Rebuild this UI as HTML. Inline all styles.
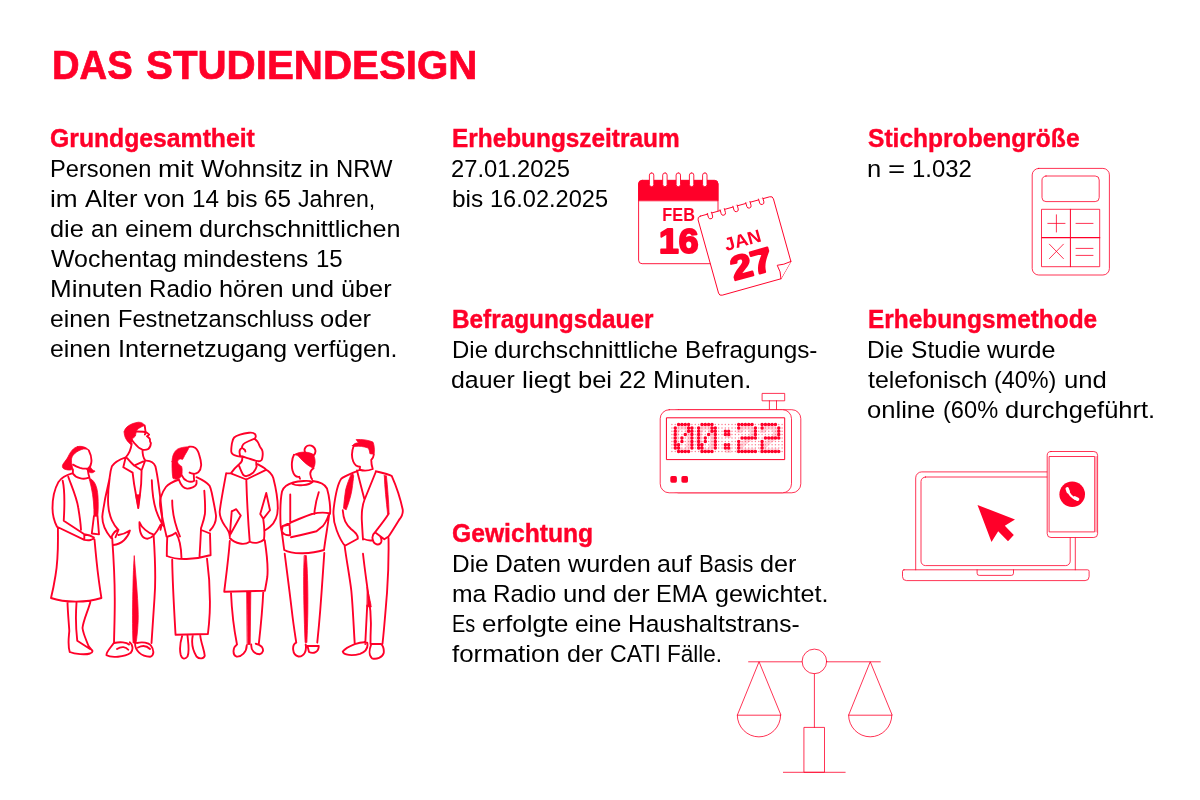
<!DOCTYPE html>
<html lang="de"><head><meta charset="utf-8"><title>Das Studiendesign</title>
<style>
html,body{margin:0;padding:0;background:#fff;}
body{width:1200px;height:800px;position:relative;overflow:hidden;font-family:"Liberation Sans",sans-serif;}
.ln{position:absolute;white-space:pre;display:block;margin:0;padding:0;transform-origin:0 0;}
.ln span{display:inline-block;white-space:pre;transform-origin:0 0;}
.t{font-size:40.5px;line-height:51px;height:51px;font-weight:bold;color:#ff0029;-webkit-text-stroke:0.7px #ff0029;}
.h{font-size:25px;line-height:30px;font-weight:bold;color:#ff0029;-webkit-text-stroke:0.4px #ff0029;}
.b{font-size:24.5px;line-height:30px;height:30px;font-weight:normal;color:#000000;}
svg{position:absolute;left:0;top:0;overflow:visible;}
svg text{font-family:"Liberation Sans",sans-serif;}
</style></head>
<body>
<h1 class="ln t" style="left:51.76px;top:39.87px"><span style="width:94.17px;transform:scaleX(0.9429)">DAS </span><span style="width:334.07px;transform:scaleX(0.9953)">STUDIENDESIGN</span></h1>
<h2 class="ln h" style="left:49.93px;top:123.44px;transform:scaleX(0.9898)">Grundgesamtheit</h2>
<p class="ln b" style="left:50.37px;top:153.71px"><span style="width:108.12px;transform:scaleX(0.9663)">Personen </span><span style="width:42.45px;transform:scaleX(1.0922)">mit </span><span style="width:108.44px;transform:scaleX(1.0134)">Wohnsitz </span><span style="width:26.76px;transform:scaleX(1.0478)">in </span><span style="width:63.21px;transform:scaleX(0.9717)">NRW</span></p>
<p class="ln b" style="left:50.26px;top:183.71px"><span style="width:34.47px;transform:scaleX(1.0680)">im </span><span style="width:59.39px;transform:scaleX(1.0427)">Alter </span><span style="width:47.72px;transform:scaleX(1.0343)">von </span><span style="width:33.87px;transform:scaleX(0.9911)">14 </span><span style="width:38.28px;transform:scaleX(1.0030)">bis </span><span style="width:33.87px;transform:scaleX(0.9911)">65 </span><span style="width:84.10px;transform:scaleX(0.9451)">Jahren,</span></p>
<p class="ln b" style="left:50.26px;top:213.71px"><span style="width:40.70px;transform:scaleX(1.0355)">die </span><span style="width:33.68px;transform:scaleX(0.9848)">an </span><span style="width:74.68px;transform:scaleX(1.0165)">einem </span><span style="width:208.37px;transform:scaleX(1.0276)">durchschnittlichen</span></p>
<p class="ln b" style="left:50.87px;top:243.71px"><span style="width:132.54px;transform:scaleX(1.0183)">Wochentag </span><span style="width:132.13px;transform:scaleX(1.0004)">mindestens </span><span style="width:33.53px;transform:scaleX(0.9811)">15</span></p>
<p class="ln b" style="left:50.18px;top:273.71px"><span style="width:99.25px;transform:scaleX(1.0602)">Minuten </span><span style="width:69.93px;transform:scaleX(0.9854)">Radio </span><span style="width:71.49px;transform:scaleX(1.0316)">hören </span><span style="width:49.80px;transform:scaleX(1.0509)">und </span><span style="width:57.42px;transform:scaleX(1.0313)">über</span></p>
<p class="ln b" style="left:50.29px;top:303.71px"><span style="width:67.28px;transform:scaleX(1.0082)">einen </span><span style="width:202.55px;transform:scaleX(0.9645)">Festnetzanschluss </span><span style="width:57.95px;transform:scaleX(1.0422)">oder</span></p>
<p class="ln b" style="left:50.29px;top:333.71px"><span style="width:67.59px;transform:scaleX(1.0128)">einen </span><span style="width:175.96px;transform:scaleX(1.0344)">Internetzugang </span><span style="width:110.35px;transform:scaleX(1.0129)">verfügen.</span></p>
<h2 class="ln h" style="left:452.04px;top:123.44px;transform:scaleX(0.9753)">Erhebungszeitraum</h2>
<p class="ln b" style="left:451.29px;top:153.71px"><span style="width:125.74px;transform:scaleX(0.9695)">27.01.2025</span></p>
<p class="ln b" style="left:451.58px;top:183.71px"><span style="width:38.01px;transform:scaleX(0.9960)">bis </span><span style="width:124.88px;transform:scaleX(0.9629)">16.02.2025</span></p>
<h2 class="ln h" style="left:452.04px;top:304.34px;transform:scaleX(0.9734)">Befragungsdauer</h2>
<p class="ln b" style="left:451.54px;top:334.51px"><span style="width:42.71px;transform:scaleX(0.9790)">Die </span><span style="width:190.70px;transform:scaleX(1.0082)">durchschnittliche </span><span style="width:139.15px;transform:scaleX(0.9922)">Befragungs-</span></p>
<p class="ln b" style="left:451.48px;top:364.51px"><span style="width:70.60px;transform:scaleX(1.0167)">dauer </span><span style="width:55.57px;transform:scaleX(1.0831)">liegt </span><span style="width:40.93px;transform:scaleX(1.0412)">bei </span><span style="width:34.00px;transform:scaleX(0.9950)">22 </span><span style="width:105.33px;transform:scaleX(1.0476)">Minuten.</span></p>
<h2 class="ln h" style="left:451.64px;top:518.34px;transform:scaleX(0.9869)">Gewichtung</h2>
<p class="ln b" style="left:451.50px;top:548.51px"><span style="width:43.52px;transform:scaleX(0.9976)">Die </span><span style="width:72.79px;transform:scaleX(1.0086)">Daten </span><span style="width:89.65px;transform:scaleX(1.0304)">wurden </span><span style="width:41.52px;transform:scaleX(1.0180)">auf </span><span style="width:61.15px;transform:scaleX(0.9064)">Basis </span><span style="width:43.34px;transform:scaleX(1.0305)">der</span></p>
<p class="ln b" style="left:451.56px;top:578.51px"><span style="width:41.20px;transform:scaleX(1.0086)">ma </span><span style="width:70.17px;transform:scaleX(0.9889)">Radio </span><span style="width:49.98px;transform:scaleX(1.0546)">und </span><span style="width:43.48px;transform:scaleX(1.0337)">der </span><span style="width:58.26px;transform:scaleX(0.9679)">EMA </span><span style="width:120.27px;transform:scaleX(1.0280)">gewichtet.</span></p>
<p class="ln b" style="left:451.88px;top:608.51px"><span style="width:30.07px;transform:scaleX(0.8123)">Es </span><span style="width:93.35px;transform:scaleX(1.0586)">erfolgte </span><span style="width:53.16px;transform:scaleX(0.9999)">eine </span><span style="width:178.46px;transform:scaleX(1.0003)">Haushaltstrans-</span></p>
<p class="ln b" style="left:452.10px;top:638.51px"><span style="width:114.59px;transform:scaleX(1.0555)">formation </span><span style="width:42.99px;transform:scaleX(1.0221)">der </span><span style="width:57.74px;transform:scaleX(0.9436)">CATI </span><span style="width:61.88px;transform:scaleX(0.9195)">Fälle.</span></p>
<h2 class="ln h" style="left:867.81px;top:123.44px;transform:scaleX(0.9826)">Stichprobengröße</h2>
<p class="ln b" style="left:867.00px;top:153.71px"><span style="width:21.11px;transform:scaleX(1.0435)">n </span><span style="width:24.11px;transform:scaleX(1.2034)">= </span><span style="width:66.62px;transform:scaleX(0.9742)">1.032</span></p>
<h2 class="ln h" style="left:867.74px;top:304.34px;transform:scaleX(0.9762)">Erhebungsmethode</h2>
<p class="ln b" style="left:867.21px;top:334.51px"><span style="width:43.49px;transform:scaleX(0.9968)">Die </span><span style="width:76.52px;transform:scaleX(1.0030)">Studie </span><span style="width:75.46px;transform:scaleX(1.0283)">wurde</span></p>
<p class="ln b" style="left:868.12px;top:364.51px"><span style="width:126.21px;transform:scaleX(1.0192)">telefonisch </span><span style="width:69.20px;transform:scaleX(0.9542)">(40%) </span><span style="width:49.72px;transform:scaleX(1.0491)">und</span></p>
<p class="ln b" style="left:867.46px;top:394.51px"><span style="width:75.20px;transform:scaleX(1.0450)">online </span><span style="width:62.01px;transform:scaleX(0.9640)">(60% </span><span style="width:157.04px;transform:scaleX(1.0402)">durchgeführt.</span></p>
<svg width="1200" height="800" viewBox="0 0 1200 800">
<g id="people" transform="translate(45 418) scale(0.15)" fill="none" stroke="#ff0029" stroke-width="12.5" stroke-linecap="round" stroke-linejoin="round">
<path d="M292,216 C304,240 312,280 308,300 C304,320 298,332 289,336 C270,340 250,337 233,332 C215,326 198,318 187,311 M186,344 L186,370 M286,350 C288,370 292,385 296,396 M186,370 C205,400 255,414 292,398 M186,368 C150,378 110,396 90,426 C64,472 50,540 50,600 C50,650 62,690 80,725 M80,725 L262,812 M86,735 C88,850 82,980 70,1050 C62,1100 50,1160 40,1200 M118,418 C132,480 130,600 125,685 L262,775 M262,775 C285,778 310,785 326,796 C322,815 290,818 262,812 Z M155,392 C175,450 212,530 222,600 C232,660 238,710 240,745 M326,655 L312,770 M350,655 L360,775 M312,770 L360,776 M330,810 C338,900 348,1000 356,1060 C362,1110 370,1160 376,1200 M40,1200 C130,1232 280,1232 376,1200 M150,1230 C152,1300 160,1380 162,1420 C158,1470 150,1510 165,1560 M210,1232 C205,1300 205,1400 215,1485 L300,1540 M302,1228 C285,1290 255,1350 250,1400 C255,1440 275,1480 290,1520 C300,1535 312,1545 316,1552 M165,1560 C200,1575 270,1580 300,1570 C312,1565 318,1558 316,1552"/>
<path d="M217,191 C190,195 168,228 156,254 C145,280 120,300 116,318 C114,335 125,342 150,346 C165,348 178,347 187,340 C181,325 176,300 176,280 C177,262 185,248 197,238 C215,222 236,211 256,207 C270,205 284,209 292,216 C286,202 262,191 240,189 C232,188 224,189 217,191Z M300,322 C308,340 320,350 334,354 C322,370 292,372 278,344Z M292,398 C328,412 348,450 353,520 C356,570 355,620 352,655 L326,655 C328,600 322,520 308,460 C302,432 296,412 292,398Z" fill="#ff0029" stroke-width="5"/>
<path d="M610,90 L656,92 M656,92 C668,92 672,102 666,110 M664,50 C668,65 668,80 670,92 C680,100 692,106 694,111 C690,118 684,120 680,122 C690,130 698,136 700,142 C698,150 700,158 706,167 C704,185 698,200 689,206 C675,214 660,213 650,211 C630,205 612,188 600,172 C592,164 585,154 580,147 M578,172 C574,200 562,235 540,260 M650,214 C650,240 654,265 668,283 M538,262 L522,328 L584,364 M546,266 C562,285 578,302 594,317 L656,289 M594,317 L644,348 M668,283 L644,348 M584,364 C590,420 600,480 608,520 L622,600 M644,348 C644,420 638,480 632,520 L622,600 M538,262 C500,275 465,290 446,322 C438,345 434,370 431,397 C425,430 418,460 412,487 C404,520 397,555 393,584 C388,610 383,640 382,659 C382,700 398,750 440,800 M431,400 C424,450 420,500 420,547 C420,580 424,605 427,622 C432,645 438,665 446,682 C458,708 472,728 488,745 M440,800 C455,765 475,747 490,745 L470,795 M490,780 C520,775 548,762 566,750 C552,800 512,840 455,847 M448,800 C455,900 465,1100 465,1200 C466,1300 462,1400 460,1500 M676,284 C700,285 726,296 736,322 C752,390 768,520 780,640 C786,690 780,712 770,745 M712,415 C714,480 722,560 742,620 C756,660 776,700 792,722 M630,695 C642,730 690,768 722,776 M630,695 C628,760 640,802 682,805 C722,800 752,750 770,712 M724,780 C732,900 738,1100 730,1200 C724,1300 716,1400 710,1500 M462,1495 C440,1530 405,1560 410,1582 C440,1600 530,1595 572,1565 C590,1545 585,1510 565,1495 M462,1500 C500,1490 545,1495 560,1510 M480,1540 C510,1520 540,1525 555,1545 M600,1500 C600,1550 640,1590 700,1592 C730,1585 728,1545 705,1515 C690,1498 650,1490 612,1500 M620,1530 C650,1515 680,1520 700,1540"/>
<path d="M528,92 C532,60 570,36 622,28 C642,27 660,38 664,50 C648,56 632,64 622,72 C612,80 608,88 608,94 C606,104 604,112 603,120 C596,128 588,134 583,139 C580,148 580,156 579,162 L573,177 C560,168 548,155 540,140 C532,125 527,108 528,92Z M606,512 L634,512 L622,602Z M595,920 C605,1050 625,1250 621,1350 C618,1420 612,1470 607,1500 L587,1500 C582,1400 583,1250 587,1100 C589,1020 592,960 595,920Z" fill="#ff0029" stroke-width="5"/>
<path d="M961,192 C975,190 990,192 1000,198 C1012,206 1022,222 1028,245 C1036,270 1042,295 1041,315 C1040,335 1034,350 1022,362 C1012,370 1000,373 989,372 C980,371 972,368 964,364 M992,376 C992,390 993,405 995,418 M912,382 C918,396 930,412 948,420 C965,427 985,425 995,418 M894,414 C900,432 908,446 917,456 C926,466 936,470 947,471 C960,472 973,468 984,463 C998,456 1008,448 1010,437 C1011,430 1010,424 1010,418 M1010,394 C1045,410 1082,430 1097,452 C1104,465 1108,482 1112,500 C1120,540 1134,605 1140,650 C1142,690 1130,720 1100,750 M893,410 C860,422 826,436 806,460 C792,478 780,505 772,528 C766,550 766,580 770,600 C775,640 782,670 790,700 C797,735 805,765 810,790 M848,550 C848,620 870,720 900,790 M820,790 C840,785 860,775 872,765 M815,795 C812,850 812,890 812,920 M872,765 C895,800 908,850 910,935 M812,920 C880,950 1000,945 1100,915 M1062,485 C1066,540 1070,600 1066,640 C1060,680 1048,710 1040,735 M1050,750 L1100,770 M1100,770 L1104,915 M1040,735 C1038,800 1034,860 1030,925 M848,945 C850,1100 862,1300 870,1440 M1080,938 C1095,1050 1102,1200 1098,1300 C1095,1360 1090,1410 1086,1440 M870,1445 L1086,1440 M915,1450 C900,1500 895,1540 905,1580 C915,1610 935,1610 950,1590 C965,1560 955,1500 950,1450 M985,1450 C975,1500 985,1550 1010,1590 C1030,1610 1060,1605 1065,1585 C1060,1540 1040,1500 1035,1450"/>
<path d="M847,290 C848,250 862,222 883,208 C900,198 930,192 961,192 C958,205 948,222 939,236 C932,248 927,256 925,262 C922,268 920,274 916,277 C910,272 902,271 896,275 C888,280 883,286 884,294 C886,306 898,316 911,323 C914,335 915,345 914,355 C914,365 914,372 912,380 C908,392 900,400 890,405 C875,410 860,408 853,402 C848,380 846,330 847,290Z" fill="#ff0029" stroke-width="5"/>
<path d="M1397,138 C1380,145 1368,150 1356,155 C1340,162 1328,168 1322,175 C1316,182 1313,190 1313,200 M1397,138 C1406,132 1408,118 1400,108 C1392,98 1375,96 1360,98 C1335,101 1315,106 1300,111 C1285,116 1270,122 1261,130 C1252,140 1248,155 1246,170 C1243,190 1240,210 1242,225 C1244,238 1252,244 1262,247 C1275,252 1290,256 1302,258 M1313,200 C1302,205 1296,215 1297,228 C1298,240 1300,250 1302,258 M1322,205 C1330,208 1336,215 1336,224 M1397,138 C1405,145 1412,152 1417,158 C1424,168 1428,180 1433,191 C1438,200 1443,206 1447,213 C1452,225 1452,245 1450,258 C1449,268 1447,275 1444,280 C1438,287 1430,289 1422,288 C1400,284 1378,276 1356,269 C1340,264 1325,260 1311,255 M1314,260 C1318,280 1314,296 1294,308 M1408,291 C1408,305 1409,315 1411,324 M1294,308 C1270,328 1252,350 1239,369 M1294,319 C1304,345 1312,365 1322,380 C1328,386 1335,388 1342,388 C1360,384 1378,372 1389,363 C1400,352 1407,338 1411,324 M1417,308 C1440,320 1458,330 1470,340 M1239,369 L1342,410 M1470,348 L1342,410 M1208,368 L1239,369 M1208,368 C1195,440 1175,540 1165,620 C1162,650 1180,690 1200,720 C1220,745 1230,760 1232,790 M1342,410 C1346,550 1355,700 1365,825 M1245,622 L1275,608 L1305,650 L1238,772 M1245,622 C1240,680 1235,740 1232,790 M1475,500 L1500,615 L1455,672 L1435,640 Z M1470,342 C1498,356 1514,376 1522,400 C1540,470 1552,540 1552,600 C1552,660 1530,700 1500,725 C1485,738 1472,745 1465,750 M1455,672 C1462,720 1465,770 1460,810 M1232,800 C1270,840 1330,850 1365,825 C1400,840 1440,830 1460,810 M1232,820 C1225,920 1208,1050 1195,1155 M1465,815 C1478,900 1488,1000 1482,1060 C1476,1100 1470,1130 1466,1152 M1195,1158 L1466,1152 M1240,1165 C1245,1280 1262,1420 1280,1510 M1455,1160 C1450,1280 1435,1420 1425,1510 M1280,1510 C1250,1530 1250,1580 1275,1590 C1310,1595 1345,1560 1345,1515 M1375,1510 C1372,1550 1400,1575 1430,1575 C1455,1570 1460,1545 1445,1525 C1435,1515 1420,1508 1405,1505"/>
<path d="M1346,1160 L1372,1160 L1368,1510 L1350,1510Z" fill="#ff0029" stroke-width="5"/>
<path d="M1735,232 C1720,202 1745,176 1775,184 C1805,194 1812,230 1790,250 M1660,245 C1645,270 1642,320 1650,350 C1660,385 1680,395 1695,392 L1700,405 M1790,335 C1775,345 1765,360 1770,380 C1772,395 1775,402 1780,408 M1650,440 C1680,455 1760,450 1785,425 M1655,430 C1690,420 1760,415 1785,425 M1655,430 C1620,440 1590,455 1580,490 C1570,540 1568,640 1570,700 C1572,740 1578,760 1585,775 M1785,420 C1830,425 1865,440 1880,470 C1895,520 1905,600 1900,640 M1635,510 L1635,700 M1825,495 C1810,540 1800,590 1795,640 M1585,720 C1630,700 1720,660 1780,640 C1830,628 1870,630 1895,635 M1895,635 C1880,680 1860,720 1840,730 L1810,755 M1810,755 C1750,770 1690,785 1640,795 M1585,720 L1630,710 L1635,780 C1615,785 1590,775 1578,755 Z M1578,755 C1585,800 1590,850 1595,880 M1595,880 C1650,912 1780,905 1860,880 M1895,640 C1885,720 1870,800 1860,880 M1598,905 C1610,1000 1630,1150 1645,1280 C1655,1370 1668,1450 1675,1497 M1862,900 C1855,1000 1845,1150 1835,1280 C1828,1370 1820,1450 1815,1497 M1675,1497 C1645,1510 1645,1580 1690,1590 C1730,1592 1745,1550 1738,1510 M1750,1520 L1825,1520 C1825,1560 1790,1575 1760,1560 Z"/>
<path d="M1660,245 C1690,225 1740,220 1785,240 C1805,265 1805,310 1790,335 C1760,325 1720,290 1690,255 C1680,248 1670,245 1660,245Z M1730,917 L1742,917 C1750,1000 1754,1150 1752,1300 C1750,1400 1748,1450 1746,1497 L1734,1497 C1728,1350 1722,1150 1725,1000Z" fill="#ff0029" stroke-width="5"/>
<path d="M2058,185 C2045,220 2045,265 2055,290 C2065,315 2085,325 2100,325 L2098,345 M2192,245 C2190,260 2185,270 2175,280 C2175,300 2178,320 2185,340 M2098,345 C2120,352 2160,350 2185,340 M2098,345 C2060,365 2000,385 1975,405 C1950,440 1935,520 1925,600 C1918,660 1925,700 1945,750 C1960,790 1980,830 2000,852 M2000,852 L2085,805 M1985,615 C1990,680 2005,705 2040,740 C2070,765 2088,780 2085,805 M2080,350 L2130,545 L2205,360 M2130,545 C2115,580 2110,620 2112,680 C2115,740 2118,780 2120,810 M2120,805 C2145,815 2165,820 2180,815 M2205,355 C2250,365 2295,375 2312,387 C2340,450 2370,540 2385,612 C2388,640 2378,660 2360,680 C2335,720 2305,770 2290,790 L2262,808 M2290,640 C2265,680 2225,730 2200,762 M2200,762 C2185,775 2178,800 2190,825 C2205,850 2235,848 2242,825 C2245,810 2240,795 2232,785 M2200,762 L2262,808 M1998,855 C2010,950 2030,1050 2042,1150 C2052,1250 2058,1400 2065,1507 M2120,905 C2130,1000 2148,1120 2158,1200 C2168,1260 2175,1330 2172,1400 C2170,1450 2170,1480 2170,1507 M2148,1250 L2135,1507 M2290,800 C2292,900 2288,1050 2280,1167 C2272,1260 2262,1400 2250,1505 M2065,1507 C2040,1517 2000,1537 1985,1557 C1990,1582 2050,1587 2100,1572 C2140,1557 2155,1527 2148,1497 C2120,1492 2090,1499 2065,1507 M2175,1507 C2160,1547 2160,1587 2180,1602 C2210,1612 2250,1597 2258,1567 C2262,1537 2250,1512 2240,1507 Z"/>
<path d="M2050,184 C2058,172 2072,166 2090,165 L2074,144 C2110,140 2160,148 2186,160 C2196,180 2198,215 2194,242 L2166,238 C2164,222 2160,208 2154,200 C2125,190 2095,186 2068,190 C2060,190 2054,188 2050,184Z M2040,378 C2030,400 2012,445 2004,480 C1998,520 1993,565 1990,602 L2008,612 C2022,575 2040,520 2046,480 C2052,440 2056,405 2058,385 L2052,372Z M2262,385 L2276,385 C2284,460 2292,560 2294,640 L2284,640 C2276,560 2264,460 2262,385Z M2148,1130 C2158,1180 2172,1230 2175,1260 L2148,1258Z" fill="#ff0029" stroke-width="5"/>
</g></svg>
<svg width="1200" height="800" viewBox="0 0 1200 800" fill="none" stroke="#ff0029" stroke-width="0.9" stroke-linecap="round" stroke-linejoin="round">
<g id="calendar">
  <rect x="638.6" y="180.4" width="79.4" height="83.3" rx="3.5" fill="#fff"/>
  <path d="M638.6 200.4 V183.9 a3.5 3.5 0 0 1 3.5 -3.5 H714.5 a3.5 3.5 0 0 1 3.5 3.5 V200.4 Z" fill="#ff0029"/>
  <g fill="#fff" stroke-width="0.9">
    <rect x="649.4" y="172.9" width="4.4" height="13.8" rx="2.2"/>
    <rect x="662.7" y="172.9" width="4.4" height="13.8" rx="2.2"/>
    <rect x="676.1" y="172.9" width="4.4" height="13.8" rx="2.2"/>
    <rect x="689.4" y="172.9" width="4.4" height="13.8" rx="2.2"/>
    <rect x="702.6" y="172.9" width="4.4" height="13.8" rx="2.2"/>
  </g>
  <text x="662.3" y="220.6" font-size="18" font-weight="bold" fill="#ff0029" stroke="none" textLength="32.6" lengthAdjust="spacingAndGlyphs">FEB</text>
  <text x="659" y="253.1" font-size="35.5" font-weight="bold" fill="#ff0029" stroke="#ff0029" stroke-width="2" textLength="39.5" lengthAdjust="spacingAndGlyphs">16</text>
  <g transform="translate(697.3 217) rotate(-15.6)">
    <path d="M3 0 H75.2 a3 3 0 0 1 3 3 V68 L64 82 H3 a3 3 0 0 1 -3 -3 V3 a3 3 0 0 1 3 -3 Z" fill="#fff"/>
    <path d="M78.2 68 Q70 69.5 64 68 Q66 75 64 82" fill="#fff"/>
    <g fill="#fff" stroke-width="0.9">
      <path d="M10.6 -0.8 V3.2 a2.2 2.2 0 0 0 4.4 0 V-0.8"/>
      <path d="M23.9 -0.8 V3.2 a2.2 2.2 0 0 0 4.4 0 V-0.8"/>
      <path d="M37.2 -0.8 V3.2 a2.2 2.2 0 0 0 4.4 0 V-0.8"/>
      <path d="M50.5 -0.8 V3.2 a2.2 2.2 0 0 0 4.4 0 V-0.8"/>
      <path d="M63.8 -0.8 V3.2 a2.2 2.2 0 0 0 4.4 0 V-0.8"/>
    </g>
    <text x="18.6" y="40.6" font-size="18" font-weight="bold" fill="#ff0029" stroke="none" textLength="37.5" lengthAdjust="spacingAndGlyphs">JAN</text>
    <text x="18.4" y="71.2" font-size="33.5" font-weight="bold" fill="#ff0029" stroke="#ff0029" stroke-width="2" textLength="42.5" lengthAdjust="spacingAndGlyphs">27</text>
  </g>
</g>
</svg>
<svg width="1200" height="800" viewBox="0 0 1200 800" fill="none" stroke="#ff0029" stroke-width="0.8" stroke-linecap="round" stroke-linejoin="round">
<g id="calculator">
  <rect x="1032.2" y="168.4" width="77.2" height="106.6" rx="6.5"/>
  <rect x="1042" y="176" width="57.2" height="25.6" rx="4"/>
  <rect x="1041.9" y="209.3" width="57.8" height="57.4"/>
  <path d="M1070.4 209.3 V266.7" stroke-width="1"/>
  <path d="M1041.9 237.7 H1099.7" stroke-width="1.2"/>
  <path d="M1047.8 223.4 H1065 M1056.4 214.8 V232"/>
  <path d="M1076 223.4 H1093"/>
  <path d="M1049.4 244.2 L1063.4 258.6 M1063.4 244.2 L1049.4 258.6"/>
  <path d="M1076 248.4 H1093 M1076 255.4 H1093"/>
</g>
</svg>
<svg width="1200" height="800" viewBox="0 0 1200 800" fill="none" stroke="#ff0029" stroke-width="0.8" stroke-linecap="round" stroke-linejoin="round">
<g id="timer">
  <rect x="669.4" y="409.7" width="131.4" height="83.1" rx="9"/>
  <rect x="660.2" y="409.7" width="131.3" height="83.1" rx="9" fill="#fff"/>
  <rect x="762.5" y="393.4" width="22.2" height="7.4" fill="#fff"/>
  <path d="M769.4 400.8 V409.3 M776.5 400.8 V409.3"/>
  <rect x="666.8" y="417.8" width="117.9" height="41.8" stroke-width="1"/>
  <path d="M671.90 424.50H782.32 M671.90 427.88H782.32 M671.90 431.25H782.32 M671.90 434.62H782.32 M671.90 438.00H782.32 M671.90 441.38H782.32 M671.90 444.75H782.32 M671.90 448.12H782.32 M671.90 451.50H782.32" stroke-width="1.5" stroke-dasharray="0 3.34" stroke-opacity="0.5"/>
  <text x="671.2 694.6 721.5 734.7 758.1" y="453.2" font-family="'Liberation Mono',monospace" font-weight="bold" font-size="41" fill="#ff0029" fill-opacity="0.16" stroke="none">00:22</text>
  <path d="M678.58 424.50h0 M681.92 424.50h0 M685.26 424.50h0 M688.60 424.50h0 M701.96 424.50h0 M705.30 424.50h0 M708.64 424.50h0 M711.98 424.50h0 M738.70 424.50h0 M742.04 424.50h0 M745.38 424.50h0 M748.72 424.50h0 M752.06 424.50h0 M762.08 424.50h0 M765.42 424.50h0 M768.76 424.50h0 M772.10 424.50h0 M775.44 424.50h0 M675.24 427.88h0 M688.60 427.88h0 M691.94 427.88h0 M698.62 427.88h0 M711.98 427.88h0 M715.32 427.88h0 M738.70 427.88h0 M755.40 427.88h0 M762.08 427.88h0 M778.78 427.88h0 M675.24 431.25h0 M688.60 431.25h0 M691.94 431.25h0 M698.62 431.25h0 M711.98 431.25h0 M715.32 431.25h0 M725.34 431.25h0 M728.68 431.25h0 M755.40 431.25h0 M778.78 431.25h0 M675.24 434.62h0 M685.26 434.62h0 M691.94 434.62h0 M698.62 434.62h0 M708.64 434.62h0 M715.32 434.62h0 M725.34 434.62h0 M728.68 434.62h0 M755.40 434.62h0 M778.78 434.62h0 M675.24 438.00h0 M681.92 438.00h0 M691.94 438.00h0 M698.62 438.00h0 M705.30 438.00h0 M715.32 438.00h0 M742.04 438.00h0 M745.38 438.00h0 M748.72 438.00h0 M752.06 438.00h0 M755.40 438.00h0 M765.42 438.00h0 M768.76 438.00h0 M772.10 438.00h0 M775.44 438.00h0 M778.78 438.00h0 M675.24 441.38h0 M681.92 441.38h0 M691.94 441.38h0 M698.62 441.38h0 M705.30 441.38h0 M715.32 441.38h0 M738.70 441.38h0 M762.08 441.38h0 M675.24 444.75h0 M678.58 444.75h0 M691.94 444.75h0 M698.62 444.75h0 M701.96 444.75h0 M715.32 444.75h0 M725.34 444.75h0 M728.68 444.75h0 M738.70 444.75h0 M762.08 444.75h0 M675.24 448.12h0 M678.58 448.12h0 M691.94 448.12h0 M698.62 448.12h0 M701.96 448.12h0 M715.32 448.12h0 M725.34 448.12h0 M728.68 448.12h0 M738.70 448.12h0 M762.08 448.12h0 M678.58 451.50h0 M681.92 451.50h0 M685.26 451.50h0 M688.60 451.50h0 M701.96 451.50h0 M705.30 451.50h0 M708.64 451.50h0 M711.98 451.50h0 M738.70 451.50h0 M742.04 451.50h0 M745.38 451.50h0 M748.72 451.50h0 M752.06 451.50h0 M755.40 451.50h0 M762.08 451.50h0 M765.42 451.50h0 M768.76 451.50h0 M772.10 451.50h0 M775.44 451.50h0 M778.78 451.50h0" stroke-width="3.5"/>
  <rect x="670.3" y="476.1" width="6.6" height="6.6" rx="1.6" fill="#ff0029" stroke="none"/>
  <rect x="681.4" y="476.1" width="6.6" height="6.6" rx="1.6" fill="#ff0029" stroke="none"/>
</g>
</svg>
<svg width="1200" height="800" viewBox="0 0 1200 800" fill="none" stroke="#ff0029" stroke-width="0.8" stroke-linecap="round" stroke-linejoin="round">
<g id="scale">
  <path d="M748.6 661.8 H802.1 M826.7 661.8 H880.3"/>
  <circle cx="814.4" cy="661.4" r="12.3"/>
  <path d="M814.4 673.7 V727.4"/>
  <rect x="804.3" y="727.4" width="20.2" height="44.9"/>
  <path d="M783.4 772.3 H845.2"/>
  <path d="M758.9 662.1 L737.3 715.2 H780.6 Z M737.3 715.2 A21.65 21.65 0 0 0 780.6 715.2"/>
  <path d="M870.1 662.1 L848.6 715.2 H891.8 Z M848.6 715.2 A21.6 21.6 0 0 0 891.8 715.2"/>
</g>
</svg>
<svg width="1200" height="800" viewBox="0 0 1200 800" fill="none" stroke="#ff0029" stroke-width="0.8" stroke-linecap="round" stroke-linejoin="round">
<g id="laptop">
  <path d="M915.7 569.8 V477.9 a6 6 0 0 1 6 -6 H1069.3 a6 6 0 0 1 6 6 V569.8"/>
  <rect x="921" y="477" width="149.2" height="88.6" rx="4.5"/>
  <path d="M904 569.8 H1087.6 a1.5 1.5 0 0 1 1.5 1.5 V576.6 a4 4 0 0 1 -4 4 H906.5 a4 4 0 0 1 -4 -4 V571.3 a1.5 1.5 0 0 1 1.5 -1.5 Z"/>
  <path d="M977.1 569.8 V573.2 a2.2 2.2 0 0 0 2.2 2.2 H1011.3 a2.2 2.2 0 0 0 2.2 -2.2 V569.8"/>
  <path d="M977.5 504.9 L1015 519.6 L1004.8 525.7 L1013.8 535 L1008 541.3 L998.2 531.3 L991.5 542 Z" fill="#ff0029" stroke="none"/>
  <rect x="1047.2" y="451.5" width="50.4" height="86" rx="3.8" fill="#fff"/>
  <rect x="1049.5" y="456.5" width="45.2" height="75.4"/>
  <path d="M1096.1 456.5 V531.9" stroke-opacity="0.7"/>
  <circle cx="1072.2" cy="494.2" r="12.8" fill="#ff0029" stroke="none"/>
  <g transform="translate(1072.2 494.2)" stroke="#fff" fill="none">
    <path d="M-4.4 -4.6 C-4 -0.6 0.2 4 4.4 5" stroke-width="2.1"/>
    <path d="M-5 -5.4 L-4 -2.6" stroke-width="3.4"/>
    <path d="M2.8 3.7 L5.4 5.1" stroke-width="3.4"/>
  </g>
</g>
</svg>
</body></html>
